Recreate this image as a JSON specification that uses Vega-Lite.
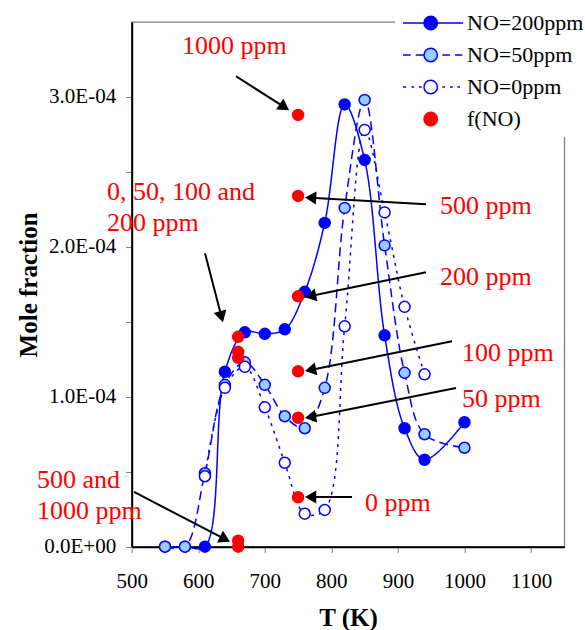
{
  "$schema": "https://vega.github.io/schema/vega-lite/v6.json",
  "width": 432.6,
  "height": 524.7,
  "autosize": {"type": "none"},
  "padding": {"left": 131.7, "top": 22, "right": 20.7, "bottom": 83.3},
  "background": "white",
  "config": {
    "view": {"stroke": "#808080", "strokeWidth": 1.3},
    "axis": {
      "labelFont": "Liberation Serif", "labelFontSize": 21, "labelColor": "black",
      "titleFont": "Liberation Serif", "titleFontSize": 25, "titleFontWeight": "bold", "titleColor": "black",
      "domainColor": "black", "domainWidth": 2, "tickColor": "#808080", "tickWidth": 1, "tickSize": 6,
      "grid": false, "labelFlush": false, "labelOverlap": false, "labelBound": false
    },
    "legend": {
      "orient": "none", "legendX": 263.3, "legendY": -17, "padding": 7,
      "fillColor": "white", "symbolSize": 400, "symbolStrokeWidth": 1.5,
      "labelFont": "Liberation Serif", "labelFontSize": 22, "labelColor": "black",
      "labelOffset": 43, "rowPadding": 10
    }
  },
  "datasets": {
    "series": [
      {"series": "NO=200ppm", "T": 550, "value": 0},
      {"series": "NO=200ppm", "T": 580, "value": 0},
      {"series": "NO=200ppm", "T": 610, "value": 0},
      {"series": "NO=200ppm", "T": 640, "value": 0.0001167},
      {"series": "NO=200ppm", "T": 670, "value": 0.000143},
      {"series": "NO=200ppm", "T": 700, "value": 0.000142},
      {"series": "NO=200ppm", "T": 730, "value": 0.000145},
      {"series": "NO=200ppm", "T": 760, "value": 0.00017},
      {"series": "NO=200ppm", "T": 790, "value": 0.000216},
      {"series": "NO=200ppm", "T": 820, "value": 0.000295},
      {"series": "NO=200ppm", "T": 850, "value": 0.000258},
      {"series": "NO=200ppm", "T": 880, "value": 0.000141},
      {"series": "NO=200ppm", "T": 910, "value": 0.000079},
      {"series": "NO=200ppm", "T": 940, "value": 0.000058},
      {"series": "NO=200ppm", "T": 1000, "value": 0.000083},
      {"series": "NO=50ppm", "T": 550, "value": 0},
      {"series": "NO=50ppm", "T": 580, "value": 0},
      {"series": "NO=50ppm", "T": 610, "value": 0.000049},
      {"series": "NO=50ppm", "T": 640, "value": 0.000108},
      {"series": "NO=50ppm", "T": 670, "value": 0.000123},
      {"series": "NO=50ppm", "T": 700, "value": 0.000108},
      {"series": "NO=50ppm", "T": 730, "value": 0.000087},
      {"series": "NO=50ppm", "T": 760, "value": 0.000079},
      {"series": "NO=50ppm", "T": 790, "value": 0.000106},
      {"series": "NO=50ppm", "T": 820, "value": 0.000226},
      {"series": "NO=50ppm", "T": 850, "value": 0.000298},
      {"series": "NO=50ppm", "T": 880, "value": 0.000201},
      {"series": "NO=50ppm", "T": 910, "value": 0.000116},
      {"series": "NO=50ppm", "T": 940, "value": 0.000075},
      {"series": "NO=50ppm", "T": 1000, "value": 0.000066},
      {"series": "NO=0ppm", "T": 610, "value": 0.000047},
      {"series": "NO=0ppm", "T": 640, "value": 0.000106},
      {"series": "NO=0ppm", "T": 670, "value": 0.00012},
      {"series": "NO=0ppm", "T": 700, "value": 0.000093},
      {"series": "NO=0ppm", "T": 730, "value": 0.000056},
      {"series": "NO=0ppm", "T": 760, "value": 0.000022},
      {"series": "NO=0ppm", "T": 790, "value": 0.0000245},
      {"series": "NO=0ppm", "T": 820, "value": 0.000147},
      {"series": "NO=0ppm", "T": 850, "value": 0.000278},
      {"series": "NO=0ppm", "T": 880, "value": 0.000223},
      {"series": "NO=0ppm", "T": 910, "value": 0.00016},
      {"series": "NO=0ppm", "T": 940, "value": 0.000115},
      {"series": "f(NO)", "T": 660, "value": 0.00014},
      {"series": "f(NO)", "T": 660, "value": 0.00013},
      {"series": "f(NO)", "T": 660, "value": 0.000126},
      {"series": "f(NO)", "T": 660, "value": 0.000004},
      {"series": "f(NO)", "T": 660, "value": 0},
      {"series": "f(NO)", "T": 750, "value": 0.000288},
      {"series": "f(NO)", "T": 750, "value": 0.000234},
      {"series": "f(NO)", "T": 750, "value": 0.000167},
      {"series": "f(NO)", "T": 750, "value": 0.000117},
      {"series": "f(NO)", "T": 750, "value": 0.000086},
      {"series": "f(NO)", "T": 750, "value": 0.000033}
    ],
    "notes": [
      {"label": "1000 ppm", "T": 575.6, "value": 0.0003285},
      {"label": "0, 50, 100 and", "T": 462.9, "value": 0.0002311},
      {"label": "200 ppm", "T": 462.9, "value": 0.0002105},
      {"label": "500 ppm", "T": 963.3, "value": 0.0002218},
      {"label": "200 ppm", "T": 963.3, "value": 0.0001745},
      {"label": "100 ppm", "T": 996.3, "value": 0.0001238},
      {"label": "50 ppm", "T": 996.3, "value": 0.0000931},
      {"label": "0 ppm", "T": 850.6, "value": 0.0000238},
      {"label": "500 and", "T": 357.7, "value": 0.0000391},
      {"label": "1000 ppm", "T": 357.7, "value": 0.0000185}
    ],
    "arrows": [
      {"T": 656.7, "value": 0.0003138, "T2": 729.5, "value2": 0.0002932, "angle": 124},
      {"T": 942.2, "value": 0.0002285, "T2": 768.8, "value2": 0.0002328, "angle": 273.2},
      {"T": 942.2, "value": 0.0001831, "T2": 768.7, "value2": 0.0001672, "angle": 258.3},
      {"T": 981.2, "value": 0.0001371, "T2": 768.7, "value2": 0.0001179, "angle": 258.5},
      {"T": 987.2, "value": 0.0001058, "T2": 768.7, "value2": 0.0000865, "angle": 259.8},
      {"T": 831.1, "value": 0.0000331, "T2": 768.8, "value2": 0.0000331, "angle": 270},
      {"T": 610.1, "value": 0.0001958, "T2": 634.9, "value2": 0.0001534, "angle": 164.9},
      {"T": 503.5, "value": 0.0000365, "T2": 640.2, "value2": 0.000005, "angle": 117}
    ]
  },
  "layer": [
    {
      "data": {"name": "series"},
      "transform": [{"filter": "datum.series != 'f(NO)'"}],
      "mark": {"type": "line", "interpolate": "catmull-rom", "stroke": "#0000FF", "strokeWidth": 1.5},
      "encoding": {
        "x": {"field": "T", "type": "quantitative", "scale": {"domain": [500, 1150], "nice": false, "zero": false},
              "axis": {"values": [500, 600, 700, 800, 900, 1000, 1100], "format": "d", "title": "T (K)", "labelPadding": 18, "titlePadding": 14}},
        "y": {"field": "value", "type": "quantitative", "scale": {"domain": [0, 0.00035], "nice": false, "zero": false},
              "axis": {"values": [0, 0.00005, 0.0001, 0.00015, 0.0002, 0.00025, 0.0003], "title": "Mole fraction", "labelPadding": 10, "titlePadding": 2,
                       "labelExpr": "round(datum.value * 100000) % 10 == 0 ? (datum.value == 0 ? '0.0E+00' : replace(format(datum.value, '.1e'), 'e-', 'E-0')) : ''"}},
        "detail": {"field": "series"},
        "strokeDash": {"field": "series", "type": "nominal", "legend": null,
                       "scale": {"domain": ["NO=200ppm", "NO=50ppm", "NO=0ppm"], "range": [[1, 0], [9, 5], [3, 5]]}}
      }
    },
    {
      "data": {"name": "series"},
      "mark": {"type": "point", "shape": "circle", "size": 120, "strokeWidth": 1.5, "opacity": 1, "fillOpacity": 1},
      "encoding": {
        "x": {"field": "T", "type": "quantitative"},
        "y": {"field": "value", "type": "quantitative"},
        "fill": {"field": "series", "type": "nominal", "legend": {"title": null},
                 "scale": {"domain": ["NO=200ppm", "NO=50ppm", "NO=0ppm", "f(NO)"], "range": ["#0000FF", "#99CCFF", "#FFFFFF", "#FF0000"]}},
        "stroke": {"field": "series", "type": "nominal", "legend": {"title": null},
                   "scale": {"domain": ["NO=200ppm", "NO=50ppm", "NO=0ppm", "f(NO)"], "range": ["#0000FF", "#0000FF", "#0000FF", "#FF0000"]}}
      }
    },
    {
      "data": {"name": "series"},
      "transform": [{"filter": "datum.T < 0"}],
      "mark": {"type": "point", "opacity": 1, "fillOpacity": 1},
      "encoding": {
        "x": {"field": "T", "type": "quantitative"},
        "y": {"field": "value", "type": "quantitative"},
        "shape": {"field": "series", "type": "nominal", "legend": {"title": null},
                  "scale": {"domain": ["NO=200ppm", "NO=50ppm", "NO=0ppm", "f(NO)"],
                            "range": ["M-1,0H1.1M2.44,0H5M1.1,0A0.67,0.67,0,1,1,2.44,0A0.67,0.67,0,1,1,1.1,0Z",
                                      "M-1,0H-0.23M0.27,0H1.04M2.94,0H3.7M4.2,0H4.94M1.1,0A0.67,0.67,0,1,1,2.44,0A0.67,0.67,0,1,1,1.1,0Z",
                                      "M-1,0H-0.7M-0.15,0H0.12M0.6,0H0.87M2.94,0H3.2M3.7,0H3.97M4.44,0H4.7M1.1,0A0.67,0.67,0,1,1,2.44,0A0.67,0.67,0,1,1,1.1,0Z",
                                      "M1.1,0A0.67,0.67,0,1,1,2.44,0A0.67,0.67,0,1,1,1.1,0Z"]}},
        "fill": {"field": "series", "type": "nominal", "legend": {"title": null}},
        "stroke": {"field": "series", "type": "nominal", "legend": {"title": null}}
      }
    },
    {
      "data": {"name": "arrows"},
      "mark": {"type": "rule", "color": "black", "strokeWidth": 2},
      "encoding": {
        "x": {"field": "T", "type": "quantitative"},
        "y": {"field": "value", "type": "quantitative"},
        "x2": {"field": "T2"},
        "y2": {"field": "value2"}
      }
    },
    {
      "data": {"name": "arrows"},
      "mark": {"type": "point", "shape": "triangle-up", "size": 169, "filled": true, "color": "black", "opacity": 1},
      "encoding": {
        "x": {"field": "T2", "type": "quantitative"},
        "y": {"field": "value2", "type": "quantitative"},
        "angle": {"field": "angle", "type": "quantitative", "scale": null}
      }
    },
    {
      "data": {"name": "notes"},
      "mark": {"type": "text", "align": "left", "baseline": "alphabetic", "font": "Liberation Serif", "fontSize": 26, "color": "#FF0000"},
      "encoding": {
        "x": {"field": "T", "type": "quantitative"},
        "y": {"field": "value", "type": "quantitative"},
        "text": {"field": "label"}
      }
    }
  ]
}
